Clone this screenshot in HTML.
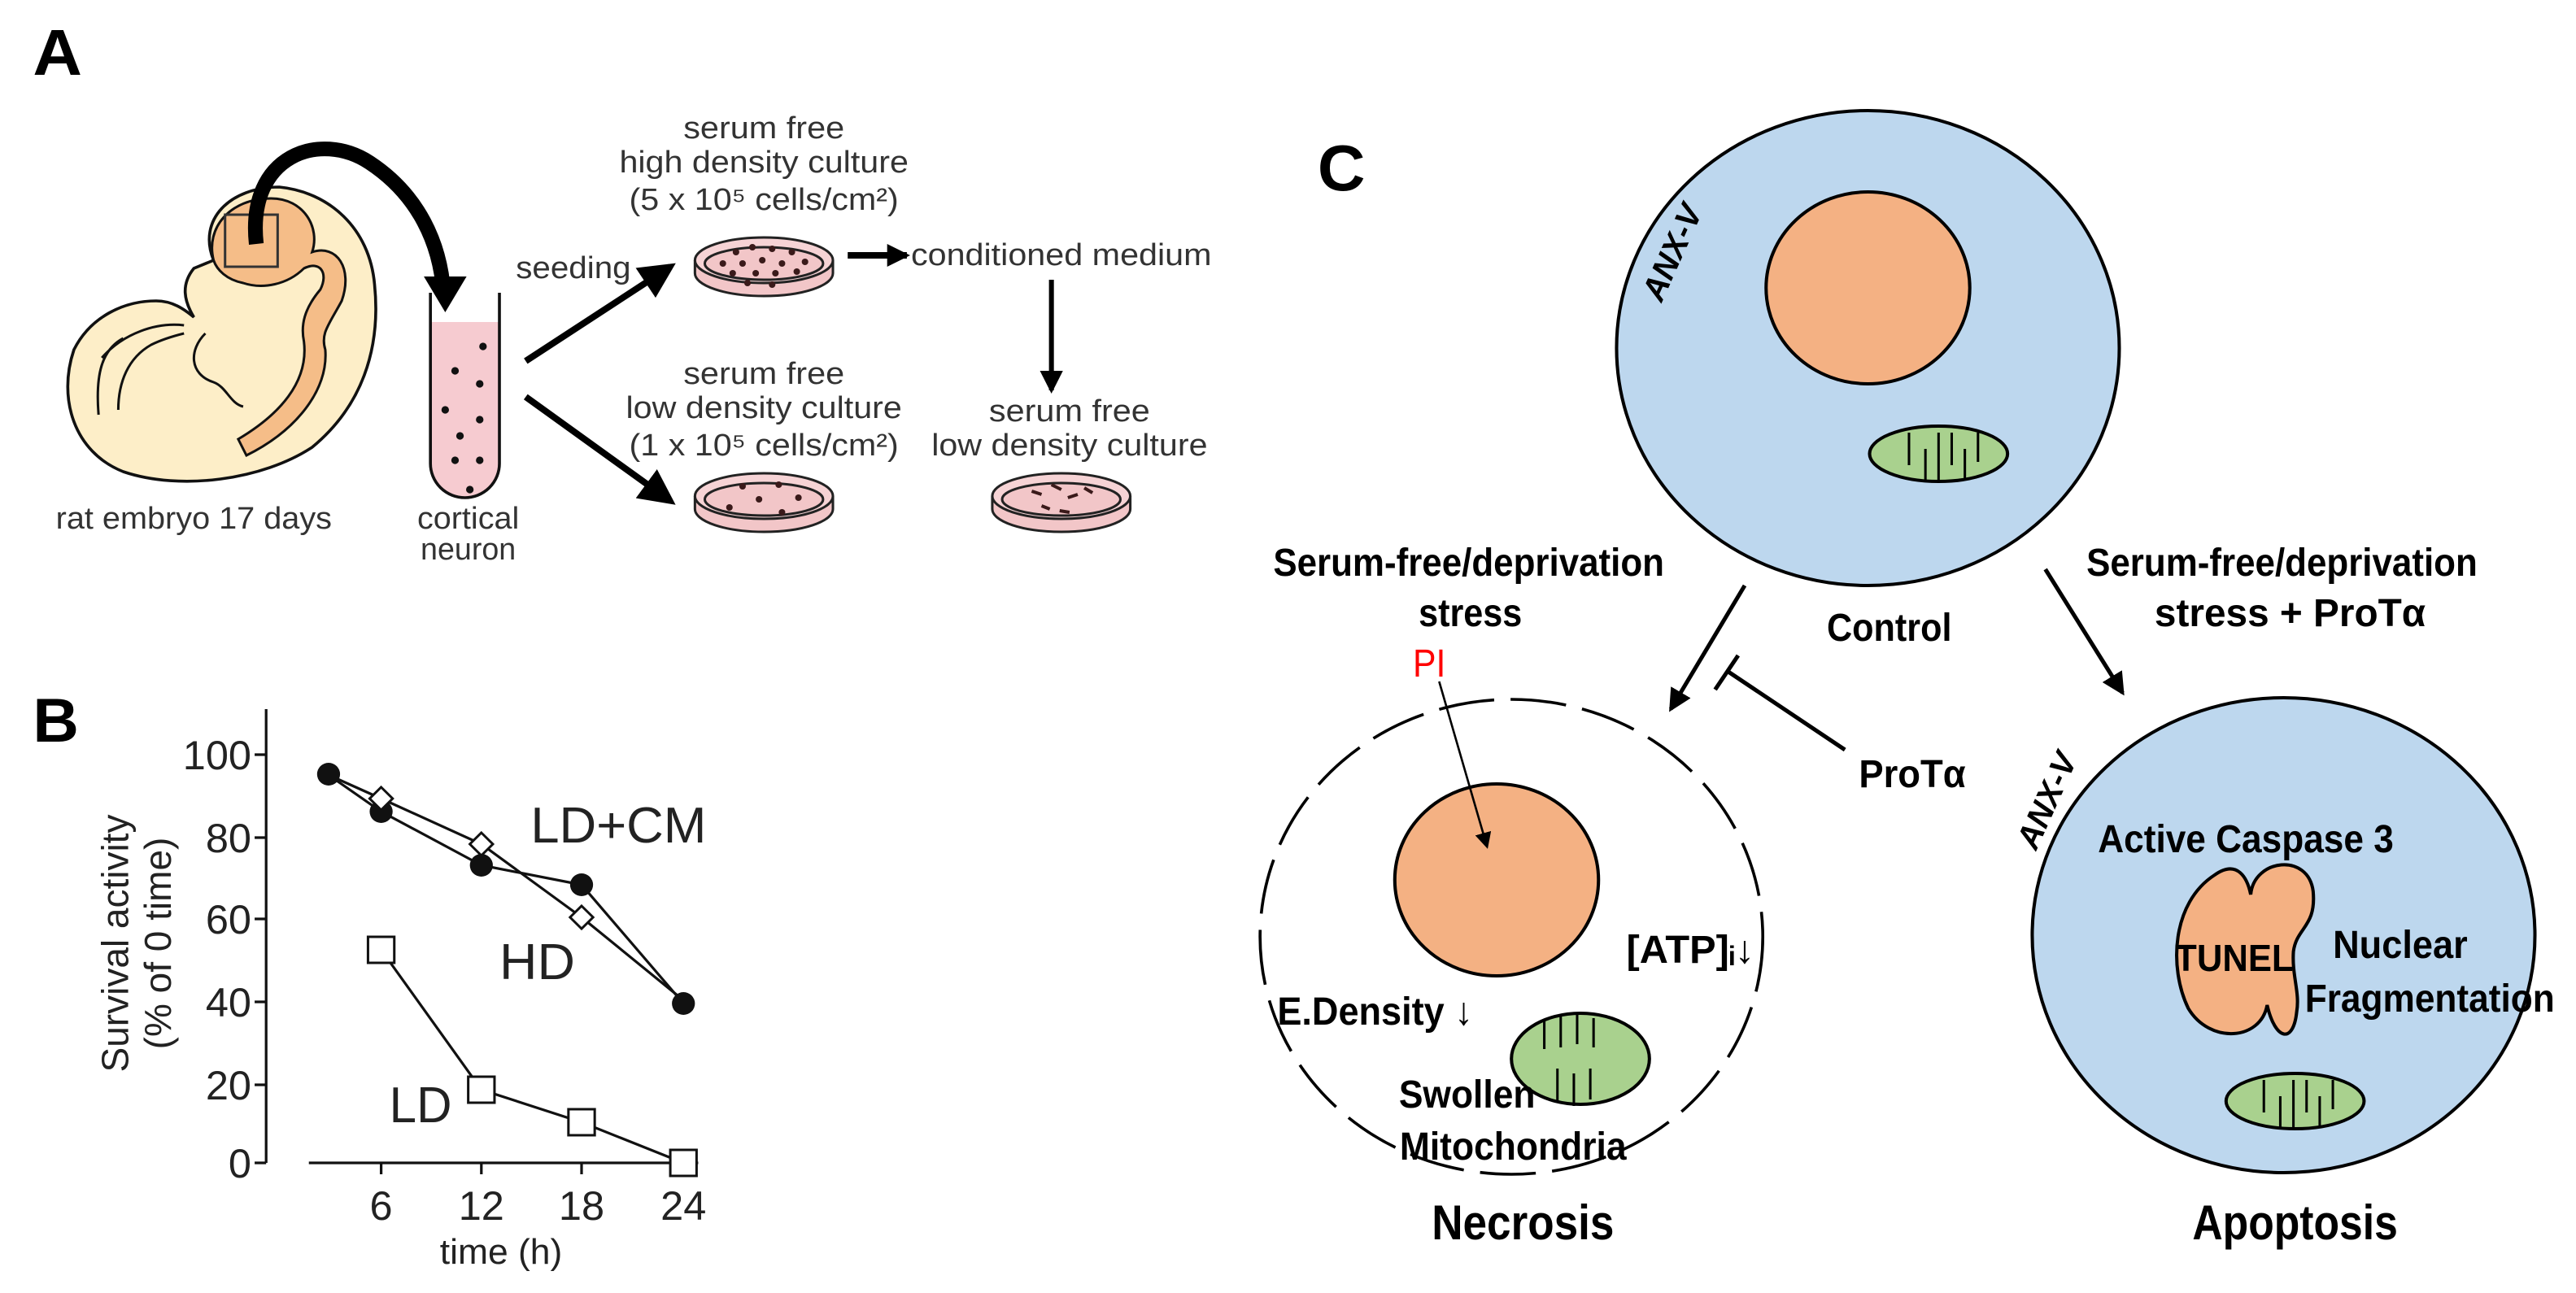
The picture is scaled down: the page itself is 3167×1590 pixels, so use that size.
<!DOCTYPE html>
<html><head><meta charset="utf-8"><style>html,body{margin:0;padding:0;background:#fff}svg{display:block}</style></head>
<body>
<svg width="3167" height="1590" viewBox="0 0 1568 795" preserveAspectRatio="none" xmlns="http://www.w3.org/2000/svg">
<defs>
<marker id="ah" markerWidth="10" markerHeight="10" refX="8" refY="5" orient="auto" markerUnits="userSpaceOnUse"><path d="M0,0 L10,5 L0,10 z" fill="#000"/></marker>
<marker id="ahB" markerWidth="22" markerHeight="22" refX="18" refY="11" orient="auto" markerUnits="userSpaceOnUse"><path d="M0,0 L22,11 L0,22 z" fill="#000"/></marker>
<marker id="ahM" markerWidth="14" markerHeight="14" refX="12" refY="7" orient="auto" markerUnits="userSpaceOnUse"><path d="M0,0 L14,7 L0,14 z" fill="#000"/></marker>
</defs>
<g font-family="Liberation Sans, sans-serif">
<!-- Panel A -->
<text x="20" y="46" font-size="40" font-weight="bold" textLength="30" lengthAdjust="spacingAndGlyphs">A</text>
<path d="M130,160 C120,135 140,115 170,115 C200,118 225,140 228,175 C232,215 220,250 190,275 C160,295 110,302 75,290 C45,278 35,245 45,215 C55,195 75,185 95,185 C105,185 112,190 118,195 C112,185 110,175 118,165 Z" fill="#fdeec8" stroke="#111" stroke-width="1.8"/>
<path d="M130,160 C125,140 140,122 165,122 C185,122 195,140 190,155 C205,150 215,165 208,185 C200,200 195,205 198,215 C200,240 180,265 150,280 L145,270 C170,255 188,235 185,210 C183,200 185,190 195,178 C200,168 195,160 185,165 C175,175 160,178 148,174 C138,172 132,166 130,160 Z" fill="#f5bd88" stroke="#111" stroke-width="1.5"/>
<path d="M60,255 C58,230 62,215 75,208 M72,252 C72,235 78,220 92,212 C100,208 108,206 112,205 M62,220 C75,205 95,198 112,200 M125,205 C115,215 115,230 130,235 C138,238 140,248 148,250" fill="none" stroke="#111" stroke-width="1.5"/>
<rect x="137" y="132" width="32" height="32" fill="none" stroke="#333" stroke-width="1.5"/>
<path d="M156,150 C150,95 195,80 225,100 C255,120 268,150 270,180" fill="none" stroke="#000" stroke-width="9"/>
<path d="M258,170 L284,170 L271,192 Z" fill="#000"/>
<path d="M262,198 L304,198 L304,285 A21,21 0 0 1 262,285 Z" fill="#f6cbd0"/>
<path d="M262,180 L262,285 A21,21 0 0 0 304,285 L304,180" fill="none" stroke="#111" stroke-width="1.8"/>
<g fill="#111"><circle cx="294" cy="213" r="2.3"/><circle cx="277" cy="228" r="2.3"/><circle cx="292" cy="236" r="2.3"/><circle cx="271" cy="252" r="2.3"/><circle cx="292" cy="258" r="2.3"/><circle cx="280" cy="268" r="2.3"/><circle cx="277" cy="283" r="2.3"/><circle cx="292" cy="283" r="2.3"/><circle cx="286" cy="301" r="2.3"/></g>
<g fill="#333" font-size="19" text-anchor="middle">
<text x="118" y="325" textLength="168" lengthAdjust="spacingAndGlyphs">rat embryo 17 days</text>
<text x="285" y="325" textLength="62" lengthAdjust="spacingAndGlyphs">cortical</text>
<text x="285" y="344" textLength="58" lengthAdjust="spacingAndGlyphs">neuron</text>
<text x="349" y="171" textLength="70" lengthAdjust="spacingAndGlyphs">seeding</text>
<text x="465" y="85" textLength="98" lengthAdjust="spacingAndGlyphs">serum free</text>
<text x="465" y="106" textLength="176" lengthAdjust="spacingAndGlyphs">high density culture</text>
<text x="465" y="129" textLength="164" lengthAdjust="spacingAndGlyphs">(5 x 10⁵ cells/cm²)</text>
<text x="465" y="236" textLength="98" lengthAdjust="spacingAndGlyphs">serum free</text>
<text x="465" y="257" textLength="168" lengthAdjust="spacingAndGlyphs">low density culture</text>
<text x="465" y="280" textLength="164" lengthAdjust="spacingAndGlyphs">(1 x 10⁵ cells/cm²)</text>
<text x="651" y="259" textLength="98" lengthAdjust="spacingAndGlyphs">serum free</text>
<text x="651" y="280" textLength="168" lengthAdjust="spacingAndGlyphs">low density culture</text>
<text x="646" y="163" textLength="183" lengthAdjust="spacingAndGlyphs">conditioned medium</text>
</g>
<line x1="320" y1="222" x2="408" y2="164" stroke="#000" stroke-width="4" marker-end="url(#ahB)"/>
<line x1="320" y1="244" x2="408" y2="308" stroke="#000" stroke-width="4" marker-end="url(#ahB)"/>
<line x1="516" y1="157" x2="552" y2="157" stroke="#000" stroke-width="4" marker-end="url(#ahM)"/>
<line x1="640" y1="172" x2="640" y2="240" stroke="#000" stroke-width="3" marker-end="url(#ahM)"/>
<g stroke="#222" stroke-width="1.5">
<path d="M423,160 L423,168 A42,14 0 0 0 507,168 L507,160" fill="#f2c6c8"/>
<ellipse cx="465" cy="160" rx="42" ry="14" fill="#f6d3d5"/>
<ellipse cx="465" cy="162" rx="36" ry="10" fill="#f2c6c8"/>
<path d="M423,305 L423,313 A42,14 0 0 0 507,313 L507,305" fill="#f2c6c8"/>
<ellipse cx="465" cy="305" rx="42" ry="14" fill="#f6d3d5"/>
<ellipse cx="465" cy="307" rx="36" ry="10" fill="#f2c6c8"/>
<path d="M604,305 L604,313 A42,14 0 0 0 688,313 L688,305" fill="#f2c6c8"/>
<ellipse cx="646" cy="305" rx="42" ry="14" fill="#f6d3d5"/>
<ellipse cx="646" cy="307" rx="36" ry="10" fill="#f2c6c8"/>
</g>
<g fill="#3a1a1a">
<circle cx="448" cy="155" r="2"/><circle cx="458" cy="152" r="2"/><circle cx="470" cy="153" r="2"/><circle cx="482" cy="155" r="2"/><circle cx="440" cy="162" r="2"/><circle cx="452" cy="162" r="2"/><circle cx="464" cy="160" r="2"/><circle cx="476" cy="162" r="2"/><circle cx="490" cy="161" r="2"/><circle cx="446" cy="168" r="2"/><circle cx="460" cy="168" r="2"/><circle cx="472" cy="168" r="2"/><circle cx="485" cy="167" r="2"/><circle cx="455" cy="174" r="2"/><circle cx="470" cy="175" r="2"/>
<circle cx="452" cy="299" r="2"/><circle cx="474" cy="298" r="2"/><circle cx="462" cy="307" r="2"/><circle cx="486" cy="306" r="2"/><circle cx="444" cy="312" r="2"/><circle cx="476" cy="315" r="2"/>
<path d="M628,302 l6,2 M640,298 l6,3 M650,306 l6,-2 M634,311 l5,2 M660,300 l5,3 M645,314 l6,1" stroke="#3a1a1a" stroke-width="2"/>
</g>

<!-- Panel B -->
<text x="20" y="456" font-size="38" font-weight="bold" textLength="28" lengthAdjust="spacingAndGlyphs">B</text>
<g stroke="#111" stroke-width="1.6" fill="none">
<line x1="162" y1="436" x2="162" y2="715"/>
<line x1="188" y1="715" x2="425" y2="715"/>
<path d="M155,464H162M155,515H162M155,565H162M155,616H162M155,667H162M155,715H162"/>
<path d="M232,715V722M293,715V722M354,715V722M416,715V722"/>
</g>
<g fill="#222" font-size="25" text-anchor="end">
<text x="153" y="473">100</text><text x="153" y="524">80</text><text x="153" y="574">60</text><text x="153" y="625">40</text><text x="153" y="676">20</text><text x="153" y="724">0</text>
</g>
<g fill="#222" font-size="25" text-anchor="middle">
<text x="232" y="750">6</text><text x="293" y="750">12</text><text x="354" y="750">18</text><text x="416" y="750">24</text>
<text x="305" y="777" font-size="22">time (h)</text>
</g>
<g fill="#222" font-size="23" text-anchor="middle">
<text transform="translate(78,580) rotate(-90)">Survival activity</text>
<text transform="translate(104,580) rotate(-90)">(% of 0 time)</text>
</g>
<g stroke="#111" stroke-width="1.6" fill="none">
<polyline points="200,476.5 232,499 293,532 354,544 416,617"/>
<polyline points="200,476.5 232,491 293,519 354,564 416,615"/>
<polyline points="232,584 293,670 354,690 416,715"/>
</g>
<g fill="#111"><circle cx="200" cy="476" r="7"/><circle cx="232" cy="499" r="7"/><circle cx="293" cy="532" r="7"/><circle cx="354" cy="544" r="7"/><circle cx="416" cy="617" r="7"/></g>
<g fill="#fff" stroke="#111" stroke-width="1.5">
<path d="M232,484 l7,7 l-7,7 l-7,-7z"/><path d="M293,512 l7,7 l-7,7 l-7,-7z"/><path d="M354,557 l7,7 l-7,7 l-7,-7z"/>
<rect x="224" y="576" width="16" height="16"/><rect x="285" y="662" width="16" height="16"/><rect x="346" y="682" width="16" height="16"/><rect x="408" y="707" width="16" height="16"/>
</g>
<g fill="#222" font-size="31">
<text x="323" y="518" textLength="107" lengthAdjust="spacingAndGlyphs">LD+CM</text>
<text x="304" y="602" textLength="46" lengthAdjust="spacingAndGlyphs">HD</text>
<text x="237" y="690" textLength="38" lengthAdjust="spacingAndGlyphs">LD</text>
</g>

<!-- Panel C shapes -->
<text x="802" y="117" font-size="40" font-weight="bold" textLength="29" lengthAdjust="spacingAndGlyphs">C</text>
<ellipse cx="1137" cy="214" rx="153" ry="146" fill="#bdd7ee" stroke="#000" stroke-width="2"/>
<ellipse cx="1137" cy="177" rx="62" ry="59" fill="#f4b183" stroke="#000" stroke-width="2"/>
<ellipse cx="1180" cy="279" rx="42" ry="17" fill="#a9d18e" stroke="#000" stroke-width="2"/>
<path d="M1162,266V286M1172,276V296M1180,266V296M1188,266V286M1196,276V294M1204,266V284" stroke="#000" stroke-width="1.5"/>
<text transform="translate(1024,158) rotate(-66)" font-size="20" font-weight="bold" font-style="italic" text-anchor="middle">ANX-V</text>

<ellipse cx="920" cy="576" rx="153" ry="146" fill="none" stroke="#000" stroke-width="1.8" stroke-dasharray="34,10"/>
<ellipse cx="911" cy="541" rx="62" ry="59" fill="#f4b183" stroke="#000" stroke-width="2"/>
<ellipse cx="962" cy="651" rx="42" ry="28" fill="#a9d18e" stroke="#000" stroke-width="2"/>
<path d="M940,627V645M950,624V644M960,624V642M970,626V644M948,657V678M958,660V680M968,657V676" stroke="#000" stroke-width="1.5"/>
<line x1="876" y1="419" x2="905" y2="520" stroke="#000" stroke-width="1.3" marker-end="url(#ah)"/>

<ellipse cx="1390" cy="575" rx="153" ry="146" fill="#bdd7ee" stroke="#000" stroke-width="2"/>
<path d="M1348,538 C1362,528 1368,540 1370,550 C1372,528 1405,524 1408,548 C1410,570 1398,570 1396,585 C1395,600 1400,610 1398,622 C1396,642 1385,640 1380,618 C1376,640 1345,642 1332,620 C1320,595 1322,555 1348,538 Z" fill="#f4b183" stroke="#000" stroke-width="2"/>
<ellipse cx="1397" cy="677" rx="42" ry="17" fill="#a9d18e" stroke="#000" stroke-width="2"/>
<path d="M1378,664V684M1388,674V694M1396,664V694M1404,664V684M1412,674V692M1420,664V682" stroke="#000" stroke-width="1.5"/>
<text transform="translate(1252,495) rotate(-66)" font-size="20" font-weight="bold" font-style="italic" text-anchor="middle">ANX-V</text>

<line x1="1062" y1="360" x2="1017" y2="436" stroke="#000" stroke-width="2.5" marker-end="url(#ahM)"/>
<line x1="1245" y1="350" x2="1292" y2="426" stroke="#000" stroke-width="2.5" marker-end="url(#ahM)"/>
<line x1="1123" y1="461" x2="1052" y2="413" stroke="#000" stroke-width="2.5"/>
<line x1="1044" y1="424" x2="1058" y2="403" stroke="#000" stroke-width="2.5"/>

<!-- Panel C text -->
<g font-size="24" font-weight="bold" text-anchor="middle" fill="#000">
<text x="894" y="354" textLength="238" lengthAdjust="spacingAndGlyphs">Serum-free/deprivation</text>
<text x="895" y="385" textLength="63" lengthAdjust="spacingAndGlyphs">stress</text>
<text x="1150" y="394" textLength="76" lengthAdjust="spacingAndGlyphs">Control</text>
<text x="1389" y="354" textLength="238" lengthAdjust="spacingAndGlyphs">Serum-free/deprivation</text>
<text x="1394" y="385" textLength="165" lengthAdjust="spacingAndGlyphs">stress +   ProTα</text>
<text x="1164" y="484" textLength="65" lengthAdjust="spacingAndGlyphs">ProTα</text>
<text x="870" y="416" fill="#ff0000" font-weight="normal" textLength="20" lengthAdjust="spacingAndGlyphs">PI</text>
<text x="1029" y="592" textLength="78" lengthAdjust="spacingAndGlyphs">[ATP]ᵢ↓</text>
<text x="837" y="630" textLength="119" lengthAdjust="spacingAndGlyphs">E.Density ↓</text>
<text x="1367" y="524" textLength="180" lengthAdjust="spacingAndGlyphs">Active Caspase 3</text>
<text x="1461" y="589" textLength="82" lengthAdjust="spacingAndGlyphs">Nuclear</text>
<text x="1479" y="622" textLength="152" lengthAdjust="spacingAndGlyphs">Fragmentation</text>
<text x="1360" y="597" font-size="23" textLength="72" lengthAdjust="spacingAndGlyphs">TUNEL</text>
<text x="893" y="681" textLength="83" lengthAdjust="spacingAndGlyphs">Swollen</text>
<text x="921" y="713" textLength="138" lengthAdjust="spacingAndGlyphs">Mitochondria</text>
<text x="927" y="762" font-size="30" textLength="111" lengthAdjust="spacingAndGlyphs">Necrosis</text>
<text x="1397" y="762" font-size="30" textLength="125" lengthAdjust="spacingAndGlyphs">Apoptosis</text>
</g>
</g>
</svg>
</body></html>
